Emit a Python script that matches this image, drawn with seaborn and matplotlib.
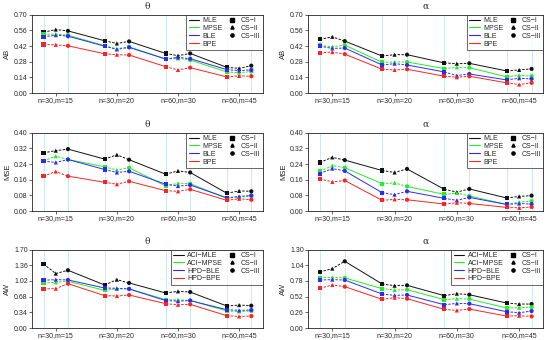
import numpy as np
import pandas as pd
import matplotlib
matplotlib.use("Agg")
import matplotlib.pyplot as plt
import seaborn as sns
from matplotlib.lines import Line2D

# ── data ──────────────────────────────────────────────────────
GROUPS = ["n=30,m=15", "n=30,m=20", "n=60,m=30", "n=60,m=45"]
SCHEMES = ["CS\u2212I", "CS\u2212II", "CS\u2212III"]
POINT_LABELS = ["MLE", "MPSE", "BLE", "BPE"]
INTERVAL_LABELS = ["ACI\u2212MLE", "ACI\u2212MPSE", "HPD\u2212BLE", "HPD\u2212BPE"]

# AB, theta  (CS-I, CS-II, CS-III for each of the 4 groups)
ab_theta_mle  = [0.543, 0.567, 0.555, 0.467, 0.443, 0.461, 0.354, 0.334, 0.354, 0.230, 0.221, 0.245]
ab_theta_mpse = [0.526, 0.526, 0.517, 0.422, 0.396, 0.413, 0.304, 0.310, 0.295, 0.189, 0.183, 0.192]
ab_theta_ble  = [0.502, 0.517, 0.508, 0.419, 0.390, 0.408, 0.304, 0.319, 0.307, 0.210, 0.201, 0.207]
ab_theta_bpe  = [0.434, 0.431, 0.422, 0.351, 0.343, 0.340, 0.236, 0.207, 0.227, 0.145, 0.154, 0.151]

# AB, alpha
ab_alpha_mle  = [0.479, 0.502, 0.464, 0.331, 0.343, 0.343, 0.269, 0.263, 0.266, 0.198, 0.207, 0.216]
ab_alpha_mpse = [0.425, 0.414, 0.428, 0.275, 0.278, 0.278, 0.219, 0.230, 0.227, 0.145, 0.160, 0.151]
ab_alpha_ble  = [0.419, 0.399, 0.402, 0.251, 0.263, 0.251, 0.189, 0.157, 0.171, 0.118, 0.133, 0.127]
ab_alpha_bpe  = [0.360, 0.366, 0.348, 0.213, 0.207, 0.213, 0.151, 0.142, 0.151, 0.092, 0.077, 0.092]

# MSE, theta
mse_theta_mle  = [0.297, 0.308, 0.316, 0.265, 0.287, 0.262, 0.188, 0.205, 0.197, 0.091, 0.103, 0.101]
mse_theta_mpse = [0.256, 0.280, 0.263, 0.226, 0.209, 0.221, 0.128, 0.142, 0.140, 0.065, 0.072, 0.076]
mse_theta_ble  = [0.255, 0.248, 0.263, 0.212, 0.197, 0.203, 0.137, 0.128, 0.133, 0.068, 0.075, 0.080]
mse_theta_bpe  = [0.178, 0.202, 0.178, 0.147, 0.137, 0.152, 0.104, 0.101, 0.111, 0.055, 0.063, 0.058]

# MSE, alpha
mse_alpha_mle  = [0.248, 0.274, 0.260, 0.207, 0.197, 0.215, 0.111, 0.097, 0.113, 0.067, 0.075, 0.079]
mse_alpha_mpse = [0.202, 0.232, 0.221, 0.140, 0.144, 0.126, 0.085, 0.092, 0.077, 0.034, 0.046, 0.051]
mse_alpha_ble  = [0.191, 0.217, 0.205, 0.094, 0.084, 0.101, 0.065, 0.055, 0.070, 0.034, 0.039, 0.036]
mse_alpha_bpe  = [0.164, 0.149, 0.156, 0.055, 0.060, 0.058, 0.036, 0.043, 0.039, 0.019, 0.017, 0.021]

# AW, theta
aw_theta_mle  = [1.389, 1.180, 1.252, 0.933, 1.049, 0.977, 0.760, 0.796, 0.781, 0.478, 0.499, 0.485]
aw_theta_mpse = [0.977, 0.991, 1.013, 0.818, 0.850, 0.850, 0.615, 0.610, 0.600, 0.370, 0.360, 0.370]
aw_theta_ble  = [1.035, 1.049, 1.042, 0.868, 0.861, 0.847, 0.595, 0.585, 0.595, 0.398, 0.384, 0.391]
aw_theta_bpe  = [0.847, 0.854, 0.962, 0.702, 0.695, 0.716, 0.528, 0.506, 0.514, 0.268, 0.253, 0.260]

# AW, alpha
aw_alpha_mle  = [0.929, 0.985, 1.106, 0.730, 0.702, 0.708, 0.537, 0.570, 0.553, 0.415, 0.398, 0.398]
aw_alpha_mpse = [0.830, 0.841, 0.830, 0.653, 0.631, 0.636, 0.470, 0.487, 0.481, 0.332, 0.337, 0.348]
aw_alpha_ble  = [0.796, 0.802, 0.796, 0.564, 0.542, 0.548, 0.387, 0.409, 0.404, 0.271, 0.254, 0.282]
aw_alpha_bpe  = [0.658, 0.714, 0.686, 0.476, 0.503, 0.487, 0.310, 0.293, 0.315, 0.199, 0.205, 0.194]

COLORS = ["#111111", "#22ee22", "#2a2aff", "#ff2222"]
OFFSETS = [-0.2, 0.0, 0.2]
MARKERS = dict(zip(SCHEMES, ["s", "^", "o"]))


def long_frame(series, labels):
    rows = []
    for lab, vals in zip(labels, series):
        for i, v in enumerate(vals):
            g, k = divmod(i, 3)
            rows.append({"method": lab, "group": g, "scheme": SCHEMES[k],
                         "x": g + 1 + OFFSETS[k], "y": v})
    return pd.DataFrame(rows)


def draw_panel(ax, df, labels, ymax, step, ylabel, title):
    for g in range(4):
        for off in (-0.2, 0.2):
            ax.axvline(g + 1 + off, color="#8ccbe6", ls=(0, (1.2, 1.2)), lw=0.6, zorder=0)

    for lab, c in zip(labels, COLORS):
        sub = df[df["method"] == lab]
        for g in range(4):
            seg = sub[sub["group"] == g]
            sns.lineplot(data=seg, x="x", y="y", color=c, lw=0.7, ls=(0, (2.5, 1.5)),
                         estimator=None, ax=ax, legend=False)
            if g < 3:
                conn = pd.concat([seg.iloc[[2]], sub[sub["group"] == g + 1].iloc[[0]]])
                sns.lineplot(data=conn, x="x", y="y", color=c, lw=0.7,
                             estimator=None, ax=ax, legend=False)
        sns.scatterplot(data=sub, x="x", y="y", style="scheme", markers=MARKERS,
                        color=c, s=9, linewidth=0, ax=ax, legend=False, zorder=3)

    ax.set_xlim(0.61, 4.39)
    ax.set_ylim(0, ymax)
    ax.set_xticks([1, 2, 3, 4])
    ax.set_xticklabels(GROUPS)
    ticks = np.arange(0, ymax + 1e-9, step)
    ax.set_yticks(ticks)
    ax.set_yticklabels([f"{t:.2f}" for t in ticks])
    ax.tick_params(axis="both", labelsize=5, length=2, width=0.5, pad=1)
    ax.set_xlabel("")
    ax.set_ylabel(ylabel, fontsize=5.5, labelpad=2)
    ax.set_title(title, fontsize=6.5, family="DejaVu Serif", pad=4)
    for sp in ax.spines.values():
        sp.set_visible(True)
        sp.set_linewidth(0.6)
        sp.set_color("#222222")

    handles = [Line2D([], [], color=c, lw=0.8) for c in COLORS]
    handles += [Line2D([], [], color="black", marker=MARKERS[s], ls="none", ms=2.3)
                for s in SCHEMES]
    handles.append(Line2D([], [], color="none"))
    leg = ax.legend(handles, labels + SCHEMES + [""], ncol=2, loc="upper right",
                    fontsize=5, frameon=True, fancybox=False, borderaxespad=0,
                    handlelength=1.5, handletextpad=0.5, columnspacing=0.6,
                    labelspacing=0.12, borderpad=0.35)
    leg.get_frame().set_edgecolor("#222222")
    leg.get_frame().set_linewidth(0.6)


sns.set_style("ticks")
plt.rcParams["font.family"] = ["Liberation Sans", "DejaVu Sans"]

fig = plt.figure(figsize=(5.5, 3.4), dpi=100)
col_x = [(0.058, 0.42), (0.56, 0.428)]
row_y = [0.726, 0.379, 0.035]
ph = 0.231

panels = [
    ([ab_theta_mle, ab_theta_mpse, ab_theta_ble, ab_theta_bpe], POINT_LABELS, 0.70, 0.14, "AB", "\u03b8"),
    ([ab_alpha_mle, ab_alpha_mpse, ab_alpha_ble, ab_alpha_bpe], POINT_LABELS, 0.70, 0.14, "AB", "\u03b1"),
    ([mse_theta_mle, mse_theta_mpse, mse_theta_ble, mse_theta_bpe], POINT_LABELS, 0.40, 0.08, "MSE", "\u03b8"),
    ([mse_alpha_mle, mse_alpha_mpse, mse_alpha_ble, mse_alpha_bpe], POINT_LABELS, 0.40, 0.08, "MSE", "\u03b1"),
    ([aw_theta_mle, aw_theta_mpse, aw_theta_ble, aw_theta_bpe], INTERVAL_LABELS, 1.70, 0.34, "AW", "\u03b8"),
    ([aw_alpha_mle, aw_alpha_mpse, aw_alpha_ble, aw_alpha_bpe], INTERVAL_LABELS, 1.30, 0.26, "AW", "\u03b1"),
]

for i, (series, labels, ymax, step, ylab, title) in enumerate(panels):
    r, c = divmod(i, 2)
    ax = fig.add_axes([col_x[c][0], row_y[r], col_x[c][1], ph])
    df = long_frame(series, labels)
    draw_panel(ax, df, labels, ymax, step, ylab, title)

fig.savefig("out.png", dpi=100)
